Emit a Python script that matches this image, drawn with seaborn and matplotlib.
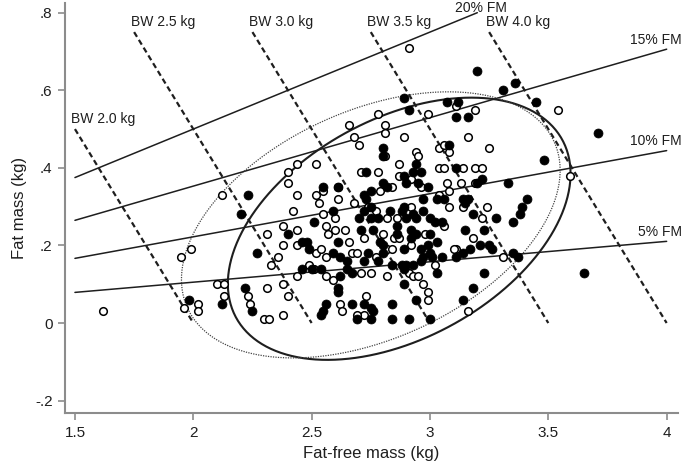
import numpy as np
import pandas as pd
import matplotlib
matplotlib.use("Agg")
import matplotlib.pyplot as plt
import seaborn as sns

# infants with filled markers (fat-free mass, fat mass in kg)
filled_ffm = [1.98, 2.12, 2.20, 2.23, 2.22, 2.25, 2.27, 2.40, 2.51, 2.46, 2.48, 2.49, 2.46, 2.50,
              2.89, 2.91, 3.07, 3.12, 3.11, 2.80, 2.80, 2.94, 2.73, 2.80, 2.93, 2.96, 2.89, 2.90,
              2.95, 2.72, 2.73, 2.75, 2.99, 2.97, 3.14, 3.15, 2.93, 2.88, 3.08, 3.11, 3.20, 3.36,
              3.31, 3.45, 3.16, 3.48, 3.71, 3.22, 3.20, 3.33, 3.41, 3.39, 3.38, 3.35, 3.28, 3.18,
              3.16, 3.15, 3.23, 3.17, 3.21, 3.25, 3.26, 3.14, 3.35, 3.37, 3.23, 3.18, 3.14, 3.65,
              3.11, 2.61, 2.75, 2.82, 3.03, 3.06, 2.59, 2.72, 2.78, 2.83, 2.89, 2.90, 2.94, 2.97,
              3.00, 3.02, 3.05, 2.70, 2.75, 2.71, 2.76, 2.86, 2.86, 2.92, 2.94, 3.00, 3.03, 2.79,
              2.61, 2.92, 2.59, 2.62, 2.65, 2.74, 2.80, 2.80, 2.89, 2.96, 2.99, 3.00, 3.01, 3.05,
              2.97, 2.78, 2.72, 2.84, 2.88, 2.90, 2.93, 2.96, 2.89, 2.62, 2.67, 2.65, 2.54, 3.03,
              2.89, 2.61, 2.61, 2.56, 2.67, 2.72, 2.75, 2.76, 2.84, 2.94, 2.75, 2.84, 2.91, 3.00,
              2.55, 2.54, 2.69, 2.55]
filled_fm = [0.06, 0.05, 0.28, 0.33, 0.09, 0.03, 0.18, 0.23, 0.26, 0.21, 0.21, 0.19, 0.14, 0.14,
             0.58, 0.55, 0.57, 0.57, 0.53, 0.45, 0.43, 0.41, 0.39, 0.36, 0.39, 0.39, 0.38, 0.36,
             0.36, 0.33, 0.32, 0.30, 0.35, 0.32, 0.32, 0.31, 0.28, 0.29, 0.46, 0.40, 0.65, 0.62,
             0.60, 0.57, 0.53, 0.42, 0.49, 0.37, 0.36, 0.36, 0.32, 0.30, 0.28, 0.26, 0.27, 0.28,
             0.32, 0.24, 0.24, 0.19, 0.20, 0.20, 0.19, 0.18, 0.18, 0.17, 0.13, 0.09, 0.06, 0.13,
             0.17, 0.35, 0.34, 0.35, 0.32, 0.32, 0.29, 0.29, 0.27, 0.29, 0.30, 0.27, 0.27, 0.29,
             0.27, 0.26, 0.26, 0.27, 0.27, 0.24, 0.24, 0.25, 0.23, 0.24, 0.23, 0.23, 0.21, 0.21,
             0.21, 0.22, 0.18, 0.17, 0.16, 0.18, 0.20, 0.18, 0.19, 0.19, 0.20, 0.18, 0.17, 0.17,
             0.17, 0.16, 0.16, 0.15, 0.15, 0.15, 0.15, 0.16, 0.14, 0.12, 0.13, 0.14, 0.14, 0.13,
             0.10, 0.09, 0.08, 0.05, 0.05, 0.05, 0.04, 0.03, 0.05, 0.06, 0.01, 0.01, 0.01, 0.01,
             0.03, 0.02, 0.01, 0.35]

# infants with open markers
open_ffm = [1.62, 1.95, 1.99, 1.96, 2.02, 2.02, 2.10, 2.13, 2.13, 2.12, 2.44, 2.52, 2.42, 2.31,
            2.38, 2.44, 2.44, 2.52, 2.38, 2.36, 2.33, 2.49, 2.51, 2.44, 2.38, 2.23, 2.31, 2.40,
            2.24, 2.38, 2.30, 2.32, 2.44, 2.52, 2.40, 2.40, 2.91, 2.78, 2.99, 3.11, 2.66, 2.81,
            2.81, 2.68, 2.70, 2.89, 2.81, 2.94, 2.95, 2.87, 3.04, 3.06, 3.08, 3.04, 3.06, 3.16,
            2.61, 2.55, 2.61, 2.53, 2.68, 2.78, 2.87, 2.84, 2.74, 2.77, 3.04, 3.07, 3.13, 3.08,
            3.19, 3.54, 3.25, 3.59, 3.14, 3.19, 3.22, 3.19, 3.24, 3.22, 3.14, 3.18, 3.31, 3.16,
            3.11, 2.71, 2.92, 2.79, 2.96, 3.08, 2.55, 2.60, 2.82, 2.86, 2.92, 3.06, 2.56, 2.60,
            2.64, 2.57, 2.72, 2.80, 2.98, 2.85, 2.87, 2.66, 2.54, 2.56, 2.67, 2.69, 2.77, 2.82,
            2.84, 2.92, 3.10, 2.91, 2.93, 2.95, 2.82, 2.71, 2.75, 2.56, 2.59, 3.02, 2.97, 2.99,
            2.62, 2.73, 2.63, 2.72, 2.99, 2.69]
open_fm = [0.03, 0.17, 0.19, 0.04, 0.05, 0.03, 0.10, 0.10, 0.07, 0.33, 0.33, 0.33, 0.29, 0.23,
           0.25, 0.24, 0.20, 0.18, 0.20, 0.17, 0.15, 0.15, 0.14, 0.12, 0.10, 0.07, 0.09, 0.07,
           0.05, 0.02, 0.01, 0.01, 0.41, 0.41, 0.39, 0.36, 0.71, 0.54, 0.54, 0.56, 0.51, 0.51,
           0.49, 0.48, 0.46, 0.48, 0.43, 0.44, 0.43, 0.41, 0.45, 0.46, 0.44, 0.40, 0.40, 0.48,
           0.35, 0.34, 0.32, 0.31, 0.31, 0.39, 0.38, 0.35, 0.30, 0.29, 0.33, 0.36, 0.36, 0.34,
           0.55, 0.55, 0.45, 0.38, 0.40, 0.40, 0.40, 0.36, 0.30, 0.27, 0.30, 0.22, 0.17, 0.03,
           0.19, 0.39, 0.37, 0.34, 0.35, 0.30, 0.28, 0.27, 0.27, 0.27, 0.30, 0.25, 0.25, 0.24,
           0.24, 0.23, 0.22, 0.23, 0.23, 0.22, 0.22, 0.21, 0.19, 0.17, 0.18, 0.18, 0.17, 0.19,
           0.19, 0.20, 0.19, 0.13, 0.12, 0.12, 0.12, 0.13, 0.13, 0.12, 0.11, 0.15, 0.10, 0.08,
           0.05, 0.07, 0.03, 0.02, 0.06, 0.02]

# iso-lines
fm_pct = [5, 10, 15, 20]
fm_ffm_end = [4.0, 4.0, 4.0, 3.2]
bw_kg = [2.0, 2.5, 3.0, 3.5, 4.0]
bw_ffm_start = [1.5, 1.75, 2.25, 2.75, 3.25]

# ellipses: centre ffm, centre fm, half-width ffm, half-height fm, correlation
ell_solid = [2.87, 0.243, 0.724, 0.338, 0.42]
ell_dotted = [2.75, 0.253, 0.80, 0.343, 0.41]

xticks = [1.5, 2, 2.5, 3, 3.5, 4]
xtick_labels = ['1.5', '2', '2.5', '3', '3.5', '4']
yticks = [-0.2, 0, 0.2, 0.4, 0.6, 0.8]
ytick_labels = ['-.2', '0', '.2', '.4', '.6', '.8']

sns.set_style('ticks')
plt.rcParams['font.family'] = ['Liberation Sans', 'DejaVu Sans']
ink = '#1e1e1e'
grey = '#8c8c8c'

fig = plt.figure(figsize=(6.85, 4.68), dpi=100)
ax = fig.add_axes([0.0949, 0.1175, 0.8949, 0.8761])

# %FM lines: fm = p/(1-p) * ffm
for p, end in zip(fm_pct, fm_ffm_end):
    k = p / (100 - p)
    xs = np.array([1.5, end])
    ax.plot(xs, k * xs, color=ink, lw=1.1, zorder=2)
    if p == 20:
        ax.text(end + 0.015, 0.812, f'{p}% FM', ha='center', va='center',
                fontsize=10, color=ink)
    else:
        ax.text(4.065, k * end + 0.025, f'{p}% FM', ha='right', va='center',
                fontsize=10, color=ink)

# body weight lines: fm = bw - ffm
for bw, start in zip(bw_kg, bw_ffm_start):
    xs = np.array([start, bw])
    ax.plot(xs, bw - xs, color=ink, lw=1.6, ls=(0, (2.5, 1.6)), zorder=2)
    ax.text(start - 0.015, bw - start + 0.026, f'BW {bw:.1f} kg', ha='left', va='center',
            fontsize=10, color=ink)


def ellipse_xy(e, n=300):
    cx, cy, sx, sy, r = e
    t = np.linspace(0, 2 * np.pi, n)
    theta = np.arccos(r)
    return cx + sx * np.cos(t), cy + sy * np.cos(t - theta)


ex, ey = ellipse_xy(ell_solid)
ax.plot(ex, ey, color=ink, lw=1.5, zorder=2)
ex, ey = ellipse_xy(ell_dotted)
ax.plot(ex, ey, color='#444444', lw=0.9, ls=(0, (1, 1)), zorder=2)

df_f = pd.DataFrame({'ffm': filled_ffm, 'fm': filled_fm})
df_o = pd.DataFrame({'ffm': open_ffm, 'fm': open_fm})
sns.scatterplot(data=df_o, x='ffm', y='fm', ax=ax, s=30, color='white',
                edgecolor='black', linewidth=1.1, zorder=3)
sns.scatterplot(data=df_f, x='ffm', y='fm', ax=ax, s=42, color='black',
                edgecolor='black', linewidth=0.5, zorder=3)

ax.set_xlim(1.458, 4.048)
ax.set_ylim(-0.232, 0.825)
ax.set_xticks(xticks)
ax.set_xticklabels(xtick_labels)
ax.set_yticks(yticks)
ax.set_yticklabels(ytick_labels)
ax.tick_params(axis='both', labelsize=11, labelcolor=ink, color=grey, length=5, width=1.2, pad=4)
ax.set_xlabel('Fat-free mass (kg)', fontsize=12, color=ink, labelpad=5)
ax.set_ylabel('Fat mass (kg)', fontsize=12, color=ink, labelpad=6)
sns.despine(ax=ax)
for side in ['left', 'bottom']:
    ax.spines[side].set_color(grey)
    ax.spines[side].set_linewidth(1.5)

fig.savefig('out.png', dpi=100)
